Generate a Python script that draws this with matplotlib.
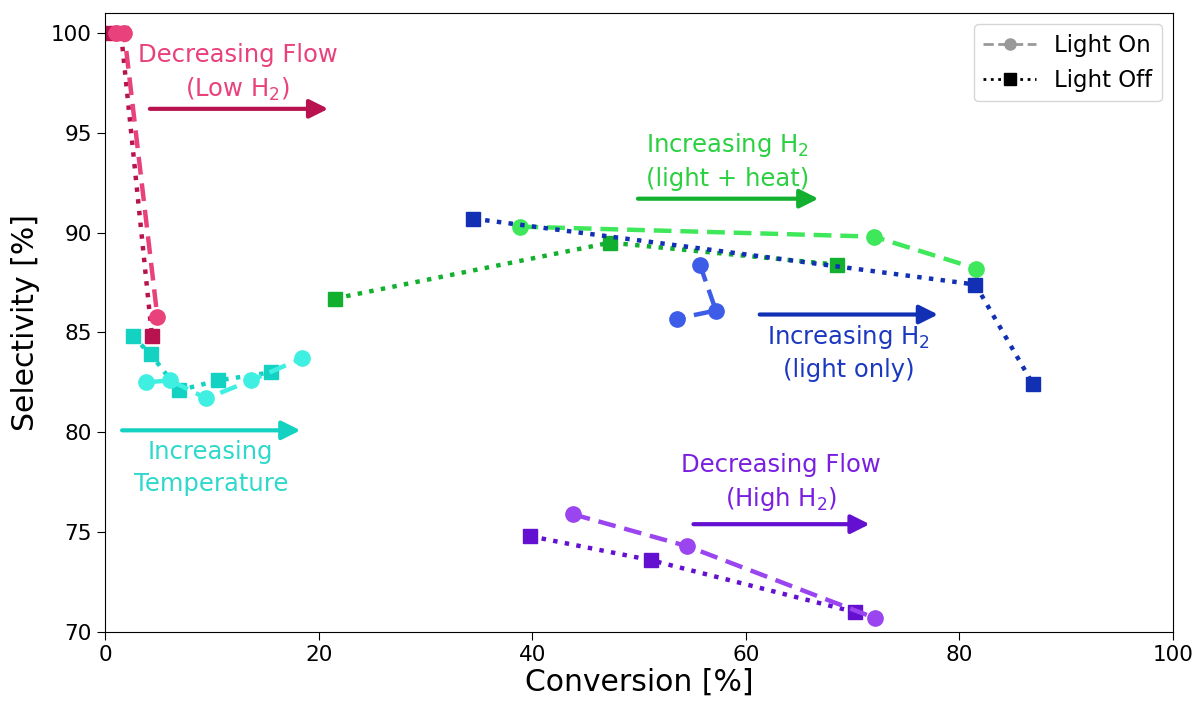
import matplotlib
matplotlib.use("Agg")
import matplotlib.pyplot as plt
from matplotlib.lines import Line2D

plt.rcParams['font.family'] = ['DejaVu Sans']

# Low H2, decreasing flow
pink_on_x = [1.0, 1.8, 4.9]
pink_on_y = [100.0, 100.0, 85.8]
pink_off_x = [0.6, 1.5, 4.4]
pink_off_y = [100.0, 100.0, 84.8]

# Increasing temperature
cyan_on_x = [3.8, 6.1, 9.5, 13.7, 18.4]
cyan_on_y = [82.5, 82.6, 81.7, 82.6, 83.7]
cyan_off_x = [2.6, 4.3, 6.9, 10.6, 15.5]
cyan_off_y = [84.8, 83.9, 82.1, 82.6, 83.0]

# Increasing H2 (light + heat)
green_on_x = [38.9, 72.0, 81.6]
green_on_y = [90.3, 89.8, 88.2]
green_off_x = [21.5, 47.3, 68.5]
green_off_y = [86.7, 89.5, 88.4]

# Increasing H2 (light only)
blue_on_x = [55.7, 57.2, 53.6]
blue_on_y = [88.4, 86.1, 85.7]
blue_off_x = [34.5, 81.5, 86.9]
blue_off_y = [90.7, 87.4, 82.4]

# High H2, decreasing flow
purple_on_x = [43.8, 54.5, 72.1]
purple_on_y = [75.9, 74.3, 70.7]
purple_off_x = [39.8, 51.1, 70.2]
purple_off_y = [74.8, 73.6, 71.0]

fig = plt.figure(figsize=(12, 7.02), dpi=100)
ax = fig.add_axes([0.0875, 0.0997, 0.89, 0.8818])

on_kw = dict(linestyle='--', marker='o', lw=3.2, ms=11, dashes=(4, 2))
off_kw = dict(linestyle=':', marker='s', lw=3.2, ms=10.5)

series = [
    (pink_on_x, pink_on_y, pink_off_x, pink_off_y, '#e8417c', '#b8124f'),
    (cyan_on_x, cyan_on_y, cyan_off_x, cyan_off_y, '#3ff0e2', '#14d2c2'),
    (green_on_x, green_on_y, green_off_x, green_off_y, '#3ee85a', '#12b02e'),
    (blue_on_x, blue_on_y, blue_off_x, blue_off_y, '#3d5ce8', '#1230b4'),
    (purple_on_x, purple_on_y, purple_off_x, purple_off_y, '#9a45f0', '#6410d0'),
]
for onx, ony, offx, offy, c_on, c_off in series:
    ax.plot(offx, offy, color=c_off, **off_kw)
    ax.plot(onx, ony, color=c_on, **on_kw)


def arrow(x0, x1, y, color):
    ax.annotate('', xy=(x1, y), xytext=(x0, y),
                arrowprops=dict(arrowstyle='-|>', lw=3, color=color,
                                mutation_scale=28, shrinkA=0, shrinkB=0))


txt_kw = dict(ha='center', va='center', fontsize=17.5, linespacing=1.4)

ax.text(12.4, 98.0, 'Decreasing Flow\n(Low H$_2$)', color='#e8417c', **txt_kw)
arrow(4.2, 20.9, 96.2, '#b8124f')

ax.text(58.3, 93.6, 'Increasing H$_2$\n(light + heat)', color='#2ad040', **txt_kw)
arrow(49.9, 66.8, 91.7, '#12b02e')

ax.text(69.6, 84.0, 'Increasing H$_2$\n(light only)', color='#1a38c0', **txt_kw)
arrow(61.3, 78.0, 85.9, '#1230b4')

ax.text(9.9, 78.2, 'Increasing\nTemperature', color='#2ed8cc', **txt_kw)
arrow(1.6, 18.3, 80.1, '#14d2c2')

ax.text(63.3, 77.45, 'Decreasing Flow\n(High H$_2$)', color='#7a1ee0', **txt_kw)
arrow(55.1, 71.6, 75.4, '#6410d0')

ax.set_xlim(0, 100)
ax.set_ylim(70, 101)
ax.set_xticks([0, 20, 40, 60, 80, 100])
ax.set_yticks([70, 75, 80, 85, 90, 95, 100])
ax.tick_params(labelsize=15.5, length=6)
ax.set_xlabel('Conversion [%]', fontsize=21.5, labelpad=2)
ax.set_ylabel('Selectivity [%]', fontsize=21.5, labelpad=8)

handles = [
    Line2D([], [], color='#999999', linestyle='--', marker='o', lw=2, ms=8),
    Line2D([], [], color='black', linestyle=':', marker='s', lw=2, ms=8),
]
ax.legend(handles, ['Light On', 'Light Off'], loc='upper right', fontsize=16.5,
          handlelength=2.3, borderpad=0.4, labelspacing=0.55)

fig.savefig('out.png', dpi=100)
